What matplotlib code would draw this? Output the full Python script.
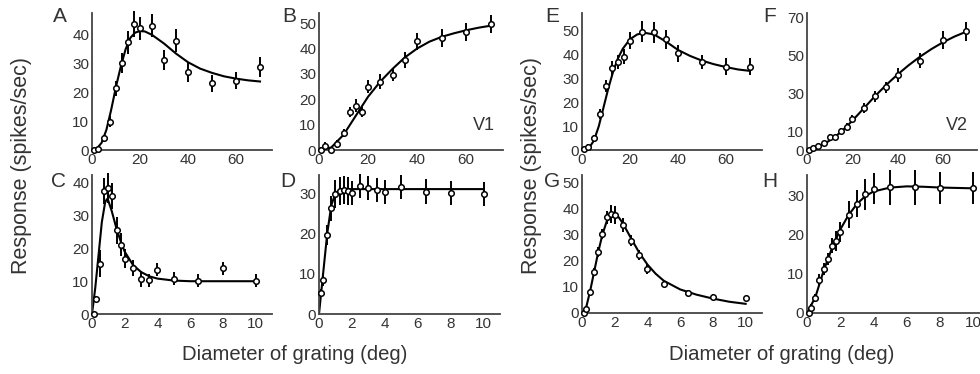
import matplotlib.pyplot as plt

# large-field panels (deg)
x_big = [1, 2.5, 5, 7.5, 10, 12.5, 15, 17.5, 20, 25, 30, 35, 40, 50, 60, 70]
# small-field panels (deg)
x_small = [0.1, 0.25, 0.5, 0.75, 1, 1.25, 1.5, 1.75, 2, 2.5, 3, 3.5, 4, 5, 6.5, 8, 10]

a_y = [0, 0.3, 4.1, 9.9, 21.4, 30.1, 37.5, 43.8, 42.3, 43.1, 31.3, 37.9, 27, 23.2, 24.1, 28.8]
a_err = [0.5, 0.5, 1, 2, 2.5, 3.5, 4, 4.5, 4, 4, 3.5, 4, 3.5, 3, 3, 3.5]
a_fit_x = [0, 2, 4, 6, 8, 10, 12, 14, 16, 18, 20, 22, 25, 30, 35, 40, 45, 50, 55, 60, 65, 70]
a_fit_y = [0, 0.5, 2.5, 7, 14, 22, 29, 35, 39, 40.8, 41.3, 41.2, 40, 37, 33.5, 30.5, 28.3, 26.8, 25.6, 24.8, 24.2, 23.8]

b_y = [0, 1.7, 0, 2.4, 6.7, 15.1, 17.5, 14.9, 25, 27, 29.7, 35.5, 42.8, 44.2, 46.6, 49.7]
b_err = [1, 1.5, 0.5, 1.5, 1.5, 2, 2.5, 2, 2.5, 3, 2.5, 3, 3.5, 3.5, 3.5, 3.5]
b_fit_x = [0, 5, 10, 15, 20, 25, 30, 35, 40, 45, 50, 55, 60, 65, 70]
b_fit_y = [0, 1, 6, 13.5, 21, 27, 32, 36.5, 40, 42.7, 44.6, 46, 47.2, 48.2, 49]

c_y = [0, 4.6, 15.4, 37.5, 38.5, 35.9, 25.5, 21.2, 16.9, 14, 10.7, 10.3, 13.5, 10.7, 10.2, 14, 10.2]
c_err = [0.5, 1, 4, 4, 4.5, 4, 4, 3.5, 3, 2.5, 2.5, 2, 2, 2, 2, 2, 2]
c_fit_x = [0, 0.2, 0.4, 0.6, 0.8, 0.9, 1.0, 1.2, 1.5, 1.8, 2, 2.5, 3, 3.5, 4, 5, 6, 8, 10]
c_fit_y = [0, 8, 18, 28, 34, 35, 34.5, 31.5, 26, 21.5, 19, 15, 12.8, 11.5, 10.8, 10.2, 10, 10, 10]

d_y = [5.2, 8.4, 19.6, 26.2, 29.8, 30.6, 30.8, 30.6, 30, 31.7, 31.2, 30.8, 30.2, 31.6, 30.4, 30, 29.8]
d_err = [1, 1.5, 2.5, 3, 3.5, 3.5, 3.5, 3.5, 3, 3, 3, 3, 3, 3, 3, 3, 3]
d_fit_x = [0, 0.25, 0.5, 0.75, 1.0, 1.25, 1.5, 2, 10]
d_fit_y = [0, 10, 20, 27, 30, 30.8, 31, 31, 31]

e_y = [0.6, 1.4, 5.2, 15.1, 26.9, 34.3, 37, 39.2, 45.9, 49.7, 49.4, 46.5, 40.6, 36.8, 35, 35]
e_err = [0.5, 1, 1, 2, 2.5, 3, 3, 3, 3.5, 4.5, 4.5, 4, 3.5, 3, 3.5, 3.5]
e_fit_x = [0, 3, 5, 7, 9, 11, 13, 15, 17, 20, 23, 26, 30, 35, 40, 45, 50, 55, 60, 65, 70]
e_fit_y = [0, 1, 4, 10, 18, 26, 33, 38.5, 42.5, 46.5, 48.5, 49.2, 48.5, 45.5, 42, 39.5, 37.5, 36, 34.8, 33.8, 33.2]

f_y = [0, 0.9, 2.3, 3.7, 7.1, 6.7, 10.3, 12.4, 16.3, 22.2, 28.4, 33.2, 39.7, 47.3, 58.2, 62.9]
f_err = [0.5, 0.5, 1, 1, 1.5, 1.5, 1.5, 2, 2, 2.5, 3, 3, 3.5, 4, 5, 5]
f_fit_x = [0, 5, 10, 15, 20, 25, 30, 35, 40, 45, 50, 55, 60, 65, 70]
f_fit_y = [0, 1.5, 5, 9.5, 15.5, 22, 28.5, 34.5, 40, 45, 49.5, 53.5, 57, 60, 62.5]

g_y = [0, 1.5, 8, 15.5, 23.2, 30.2, 36.6, 37.9, 37.5, 33.6, 27.6, 22.1, 16.9, 11.1, 7.6, 6.2, 5.6]
g_err = [0.5, 1, 1, 1.5, 2, 2, 2.5, 3.5, 3.5, 2.5, 2, 2, 2, 1, 1, 1, 1]
g_fit_x = [0, 0.25, 0.5, 0.75, 1, 1.25, 1.5, 1.75, 2, 2.25, 2.5, 3, 3.5, 4, 4.5, 5, 6, 7, 8, 9, 10]
g_fit_y = [0, 2, 8.5, 16, 23.5, 30, 34.8, 37.2, 37.5, 36.5, 34.2, 28.5, 23, 18.5, 15, 12.3, 9, 7, 5.5, 4.3, 3.5]

h_y = [0, 1.3, 3.8, 8.5, 11.2, 13.8, 17.2, 18.3, 20.6, 25.1, 27.9, 30.3, 31.7, 32.1, 32.1, 31.9, 31.9]
h_err = [0.5, 1, 1, 1.5, 1.5, 1.5, 2, 2.5, 2.5, 3.5, 3.5, 4, 4, 4.5, 4.5, 4, 4]
h_fit_x = [0, 0.5, 1, 1.5, 2, 2.5, 3, 3.5, 4, 5, 6, 7, 8, 10]
h_fit_y = [0, 4, 10.8, 16.5, 21.3, 25, 27.8, 29.8, 31, 32, 32.3, 32.2, 32, 31.8]

plt.rcParams['font.family'] = ['Liberation Sans', 'DejaVu Sans']
TXT = '#333333'

W, H = 980, 374
fig = plt.figure(figsize=(9.8, 3.74), dpi=100)


def make_ax(left, right, top, bottom):
    return fig.add_axes([left / W, 1 - bottom / H, (right - left) / W, (bottom - top) / H])


panels = [
    # letter, box (l, r, t, b), x, y, err, fit x, fit y, xlim, ylim, yticks, xticks
    ('A', (92, 272, 13, 150), x_big, a_y, a_err, a_fit_x, a_fit_y, 75, 47.6, [0, 10, 20, 30, 40], [0, 20, 40, 60]),
    ('B', (319, 503, 13, 150), x_big, b_y, b_err, b_fit_x, b_fit_y, 75, 54, [0, 10, 20, 30, 40, 50], [0, 20, 40, 60]),
    ('C', (92, 272, 175, 314), x_small, c_y, c_err, c_fit_x, c_fit_y, 11, 42.4, [0, 10, 20, 30, 40], [0, 2, 4, 6, 8, 10]),
    ('D', (319, 500, 175, 314), x_small, d_y, d_err, d_fit_x, d_fit_y, 11, 34.5, [0, 10, 20, 30], [0, 2, 4, 6, 8, 10]),
    ('E', (582, 762, 13, 150), x_big, e_y, e_err, e_fit_x, e_fit_y, 75, 57.5, [0, 10, 20, 30, 40, 50], [0, 20, 40, 60]),
    ('F', (807, 977, 13, 150), x_big, f_y, f_err, f_fit_x, f_fit_y, 75, 72.5, [0, 10, 30, 50, 70], [0, 20, 40, 60]),
    ('G', (582, 762, 175, 313), x_small, g_y, g_err, g_fit_x, g_fit_y, 11, 52.7, [0, 10, 20, 30, 40, 50], [0, 2, 4, 6, 8, 10]),
    ('H', (807, 990, 175, 313), x_small, h_y, h_err, h_fit_x, h_fit_y, 11, 35.2, [0, 10, 20, 30], [0, 2, 4, 6, 8, 10]),
]

letter_pos = {'A': (60, 17), 'B': (289, 17), 'C': (58, 182), 'D': (288, 182),
              'E': (552, 17), 'F': (770, 17), 'G': (552, 182), 'H': (770, 182)}

for letter, box, x, y, err, fx, fy, xmax, ymax, yt, xt in panels:
    ax = make_ax(*box)
    ax.plot(fx, fy, color='black', lw=1.5, zorder=2)
    ax.errorbar(x, y, yerr=err, fmt='o', ms=4, mfc='white', mec='black', mew=1.1,
                ecolor='black', elinewidth=1.4, capsize=0, zorder=3, clip_on=False)
    ax.set_xlim(0, xmax)
    ax.set_ylim(0, ymax)
    ax.set_xticks(xt)
    ax.set_yticks(yt)
    for s in ['top', 'right']:
        ax.spines[s].set_visible(False)
    for s in ['left', 'bottom']:
        ax.spines[s].set_color('#444444')
        ax.spines[s].set_linewidth(1.3)
    ax.tick_params(length=0, labelsize=11, labelcolor=TXT, pad=2)
    lx, ly = letter_pos[letter]
    fig.text(lx / W, 1 - ly / H, letter, fontsize=15, color=TXT, ha='center', va='center')

fig.text(484 / W, 1 - 125 / H, 'V1', fontsize=13, color=TXT, ha='center', va='center')
fig.text(957 / W, 1 - 125 / H, 'V2', fontsize=13, color=TXT, ha='center', va='center')

fig.text(22 / W, 1 - 165 / H, 'Response (spikes/sec)', fontsize=15.5, color=TXT,
         rotation=90, ha='center', va='center')
fig.text(531 / W, 1 - 165 / H, 'Response (spikes/sec)', fontsize=15.5, color=TXT,
         rotation=90, ha='center', va='center')
fig.text(295 / W, 1 - 355 / H, 'Diameter of grating (deg)', fontsize=14.6, color=TXT,
         ha='center', va='center')
fig.text(782 / W, 1 - 355 / H, 'Diameter of grating (deg)', fontsize=14.6, color=TXT,
         ha='center', va='center')

fig.savefig('out.png', dpi=100)
